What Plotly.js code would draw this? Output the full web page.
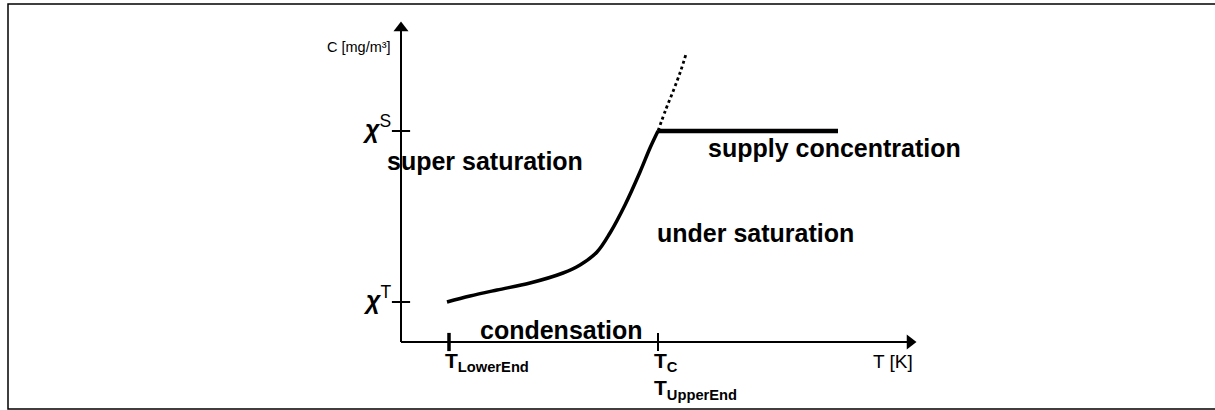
<!DOCTYPE html>
<html><head><meta charset="utf-8">
<script src="https://cdn.plot.ly/plotly-3.0.1.min.js"></script>
<style>html,body{margin:0;padding:0;background:#fff}</style>
</head><body><div id="chart" style="width:1215px;height:410px"></div>
<script>
// Solid saturation curve (T, C) in arbitrary units
const curveT = [4.6, 6.9, 9.6, 12.9, 16.2, 17.9, 19.6, 20.9, 22.4, 23.9, 24.9, 25.7];
const curveC = [4.0, 4.6, 5.2, 5.9, 6.9, 7.7, 9.0, 10.9, 13.7, 17.0, 19.4, 21.1];
// Dotted continuation above the supply concentration
const dottedT = [25.7, 26.5, 27.3, 28.0, 28.5];
const dottedC = [21.1, 23.3, 25.3, 27.2, 28.8];
// Supply concentration (flat line)
const supplyT = [25.7, 43.7];
const supplyC = [21.1, 21.1];
// Axis extents
const axisEndT = 50.9;
const axisEndC = 31.4;
// Ticks
const xTickVals = [4.8, 25.7];
const xTickText = ['<b>T<sub>LowerEnd</sub></b>', '<b>T<sub>C</sub><br>T<sub>UpperEnd</sub></b>'];
const yTickVals = [21.1, 4.0];
const yTickText = ['<b><i>χ</i></b><sup>S</sup>', '<b><i>χ</i></b><sup>T</sup>'];
// Axis titles
const xTitle = 'T [K]';
const yTitle = 'C [mg/m³]';
// Region labels
const regionLabels = ['super saturation', 'supply concentration', 'under saturation', 'condensation'];
const regionT = [-1.6, 30.5, 25.4, 7.7];
const regionC = [18.1, 19.4, 10.9, 1.2];

const FONT = 'Liberation Sans, Arial, sans-serif';
const traces = [
  {x: [0, axisEndT], y: [0, 0], mode: 'lines', line: {color: '#000', width: 2}, hoverinfo: 'skip'},
  {x: [0, 0], y: [0, axisEndC], mode: 'lines', line: {color: '#000', width: 2}, hoverinfo: 'skip'},
  {x: [axisEndT], y: [0], mode: 'markers', marker: {symbol: 'triangle-right', size: 13, color: '#000'}, hoverinfo: 'skip'},
  {x: [0], y: [axisEndC], mode: 'markers', marker: {symbol: 'triangle-up', size: 13, color: '#000'}, hoverinfo: 'skip'},
  {x: xTickVals, y: xTickVals.map(() => 0), mode: 'markers',
   marker: {symbol: 'line-ns', size: 13, color: '#000', line: {color: '#000', width: [3.5, 2]}}, hoverinfo: 'skip'},
  {x: yTickVals.map(() => 0), y: yTickVals, mode: 'markers',
   marker: {symbol: 'line-ew', size: 13, color: '#000', line: {color: '#000', width: 2}}, hoverinfo: 'skip'},
  {x: dottedT, y: dottedC, mode: 'lines', line: {color: '#000', width: 2.8, dash: 'dot', shape: 'spline'}, hoverinfo: 'skip'},
  {x: curveT, y: curveC, mode: 'lines', line: {color: '#000', width: 3.5, shape: 'spline'}, hoverinfo: 'skip'},
  {x: supplyT, y: supplyC, mode: 'lines', line: {color: '#000', width: 4.5}, hoverinfo: 'skip'}
];

const annotations = [];
regionLabels.forEach((t, i) => annotations.push({
  x: regionT[i], y: regionC[i], xref: 'x', yref: 'y', text: '<b>' + t + '</b>', showarrow: false,
  xanchor: 'left', yanchor: 'middle', font: {family: FONT, size: 25, color: '#000'}
}));
xTickVals.forEach((v, i) => annotations.push({
  x: v - 0.6, y: -0.45, xref: 'x', yref: 'y', text: xTickText[i], showarrow: false,
  xanchor: 'left', yanchor: 'top', align: 'left', font: {family: FONT, size: 21, color: '#000'}
}));
yTickVals.forEach((v, i) => annotations.push({
  x: -0.8, y: v + 0.4, xref: 'x', yref: 'y', text: yTickText[i], showarrow: false,
  xanchor: 'right', yanchor: 'middle', font: {family: FONT, size: 25, color: '#000'}
}));
annotations.push({x: 47.0, y: -1.9, xref: 'x', yref: 'y', text: xTitle, showarrow: false,
  xanchor: 'left', yanchor: 'middle', font: {family: FONT, size: 19, color: '#000'}});
annotations.push({x: -0.8, y: 29.5, xref: 'x', yref: 'y', text: yTitle, showarrow: false,
  xanchor: 'right', yanchor: 'middle', font: {family: FONT, size: 14.5, color: '#000'}});

const layout = {
  width: 1215, height: 410, autosize: false,
  margin: {l: 0, r: 0, t: 0, b: 0, pad: 0},
  paper_bgcolor: '#fff', plot_bgcolor: '#fff',
  showlegend: false,
  xaxis: {range: [-40.1, 81.4], visible: false, fixedrange: true},
  yaxis: {range: [-6.8, 34.2], visible: false, fixedrange: true},
  annotations: annotations,
  shapes: [{type: 'rect', xref: 'paper', yref: 'paper', x0: 8 / 1215, x1: 1.01, y0: 1 / 410, y1: 406 / 410,
    line: {color: '#000', width: 1.5}, fillcolor: 'rgba(0,0,0,0)'}]
};
Plotly.newPlot('chart', traces, layout, {displayModeBar: false, staticPlot: true});
</script></body></html>
